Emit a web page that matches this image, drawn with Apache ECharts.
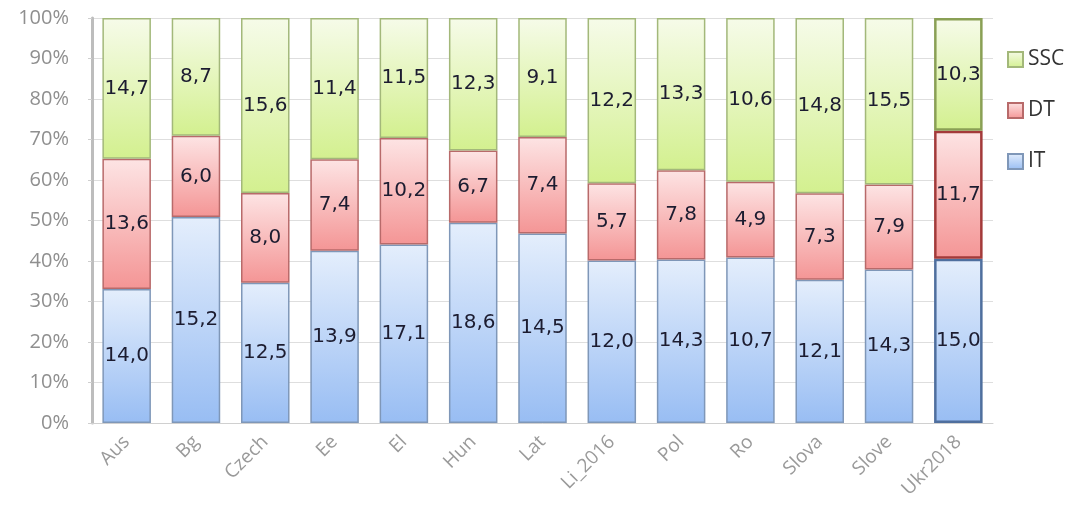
<!DOCTYPE html>
<html>
<head>
<meta charset="utf-8">
<script src="https://cdn.jsdelivr.net/npm/echarts@6/dist/echarts.min.js"></script>
<style>
  html, body { margin: 0; padding: 0; background: #fff; }
  #chart { width: 1078px; height: 519px; }
</style>
</head>
<body>
<div id="chart"></div>
<script>
// Categories and raw values per segment
const categories = ['Aus', 'Bg', 'Czech', 'Ee', 'El', 'Hun', 'Lat', 'Li_2016', 'Pol', 'Ro', 'Slova', 'Slove', 'Ukr2018'];
const itValues  = [14.0, 15.2, 12.5, 13.9, 17.1, 18.6, 14.5, 12.0, 14.3, 10.7, 12.1, 14.3, 15.0];
const dtValues  = [13.6, 6.0, 8.0, 7.4, 10.2, 6.7, 7.4, 5.7, 7.8, 4.9, 7.3, 7.9, 11.7];
const sscValues = [14.7, 8.7, 15.6, 11.4, 11.5, 12.3, 9.1, 12.2, 13.3, 10.6, 14.8, 15.5, 10.3];
const yTicks = [0, 10, 20, 30, 40, 50, 60, 70, 80, 90, 100];

const totals = categories.map((_, i) => itValues[i] + dtValues[i] + sscValues[i]);

const grad = (top, bottom) => new echarts.graphic.LinearGradient(0, 0, 0, 1, [
  { offset: 0, color: top }, { offset: 1, color: bottom }
]);

const styles = {
  IT:  { fill: grad('#e4eefc', '#98bdf3'), border: '#7f97b8', strong: '#4f6f9e' },
  DT:  { fill: grad('#fde4e4', '#f49595'), border: '#b86a6a', strong: '#a33a3a' },
  SSC: { fill: grad('#f6fbe9', '#d3f08f'), border: '#a3b87a', strong: '#8aa055' }
};

function makeSeries(name, raw) {
  const st = styles[name];
  return {
    name,
    type: 'bar',
    stack: 'total',
    barWidth: '70%',
    itemStyle: { color: st.fill, borderColor: st.border, borderWidth: 1.5 },
    label: {
      show: true,
      position: 'inside',
      color: '#1c1c30',
      fontFamily: 'DejaVu Sans',
      fontSize: 20,
      formatter: p => raw[p.dataIndex].toFixed(1).replace('.', ',')
    },
    data: raw.map((v, i) => {
      const item = { value: v / totals[i] * 100 };
      if (i === categories.length - 1) {
        item.itemStyle = { borderColor: st.strong, borderWidth: 2.5 };
      }
      return item;
    })
  };
}

const chart = echarts.init(document.getElementById('chart'), null, { renderer: 'canvas' });
chart.setOption({
  animation: false,
  backgroundColor: '#fff',
  grid: { left: 92, right: 85, top: 18, bottom: 96, containLabel: false },
  legend: {
    orient: 'vertical',
    left: 1002,
    top: 44,
    itemWidth: 15,
    itemHeight: 15,
    itemGap: 30,
    data: ['SSC', 'DT', 'IT'],
    textStyle: { fontSize: 21, color: '#333', fontFamily: 'Open Sans' },
    icon: 'rect'
  },
  xAxis: {
    type: 'category',
    data: categories,
    axisLine: { show: true, lineStyle: { color: '#d0d0d0', width: 1 } },
    axisTick: { show: false },
    axisLabel: {
      rotate: 45,
      color: '#9a9a9a',
      fontSize: 19,
      fontFamily: 'Open Sans',
      margin: 16,
      interval: 0
    }
  },
  yAxis: {
    type: 'value',
    min: 0,
    max: 100,
    interval: 10,
    axisLine: { show: true, lineStyle: { color: '#bdbdbd', width: 3 } },
    axisTick: { show: true, length: 4, lineStyle: { color: '#cfcfcf' } },
    splitLine: { show: true, lineStyle: { color: '#dedede', width: 1 } },
    axisLabel: {
      color: '#8f8f8f',
      fontSize: 20,
      fontFamily: 'Open Sans',
      margin: 23,
      customValues: yTicks,
      formatter: v => v + '%'
    }
  },
  series: [
    makeSeries('IT', itValues),
    makeSeries('DT', dtValues),
    makeSeries('SSC', sscValues)
  ]
});
</script>
</body>
</html>
